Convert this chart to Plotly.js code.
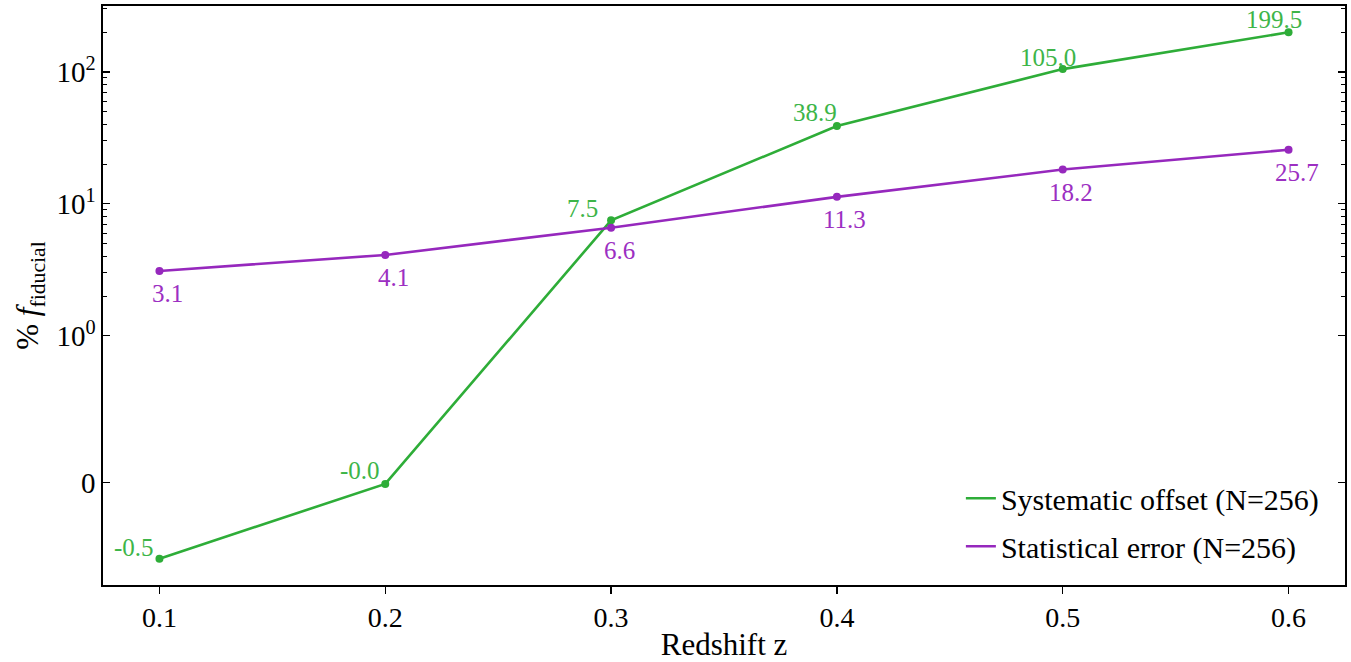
<!DOCTYPE html>
<html>
<head>
<meta charset="utf-8">
<script src="https://cdn.plot.ly/plotly-3.0.1.min.js"></script>
<style>html,body{margin:0;padding:0;background:#fff;}#chart{width:1351px;height:662px;}</style>
</head>
<body>
<div id="chart"></div>
<script>
// ---- data ----
const redshift = [0.1, 0.2, 0.3, 0.4, 0.5, 0.6];
const systematicOffset = [-0.52, -0.01, 7.5, 38.9, 105.0, 199.5];
const statisticalError = [3.1, 4.1, 6.6, 11.3, 18.2, 25.7];
const seriesNames = ['Systematic offset (N=256)', 'Statistical error (N=256)'];
const yMajorTicks = [0, 1, 10, 100];
const yMajorTickText = ['0', '10<sup>0</sup>', '10<sup>1</sup>', '10<sup>2</sup>'];
const xTicks = [0.1, 0.2, 0.3, 0.4, 0.5, 0.6];
const xTitle = 'Redshift z';
const yTitle = '% <i>f</i><sub>fiducial</sub>';

// ---- styles ----
const green = '#2ead38';
const greenText = '#3db548';
const purple = '#9628bd';
const purpleText = '#9c2fc2';
const FONT = 'Liberation Serif, Times New Roman, serif';
// label offsets (pixels) relative to the points
const greenShiftX = [-25, -25, -29, -22, -15, -15];
const greenShiftY = [11, 13, 12, 14, 12, 13];
const purpleShiftX = [8, 8, 8, 8, 8, 8];
const purpleShiftY = [-23, -23, -23, -23, -23, -23];

// ---- symlog transform (linthresh=1, linscale=1, base 10) ----
const LINSCALE_ADJ = 1 / (1 - 1 / 10);
function symlog(v) {
  const a = Math.abs(v);
  if (a <= 1) return v * LINSCALE_ADJ;
  return Math.sign(v) * (LINSCALE_ADJ + Math.log10(a));
}

const gY = systematicOffset.map(symlog);
const pY = statisticalError.map(symlog);

// range with 5% margins
const allT = gY.concat(pY);
const tMin = Math.min(...allT), tMax = Math.max(...allT);
const tPad = 0.05 * (tMax - tMin);
const xMin = Math.min(...redshift), xMax = Math.max(...redshift);
const xPad = 0.05 * (xMax - xMin);

// minor ticks
const minorVals = [];
[1, 10, 100].forEach(d => { for (let k = 2; k <= 9; k++) minorVals.push(symlog(k * d)); });

const traces = [
  {x: redshift, y: gY, mode: 'lines', name: seriesNames[0], legendgroup: 'a',
   line: {color: green, width: 2.6}, hoverinfo: 'skip'},
  {x: redshift, y: gY, mode: 'markers', name: seriesNames[0], legendgroup: 'a', showlegend: false,
   marker: {color: green, size: 8}, hoverinfo: 'skip'},
  {x: redshift, y: pY, mode: 'lines', name: seriesNames[1], legendgroup: 'b',
   line: {color: purple, width: 2.6}, hoverinfo: 'skip'},
  {x: redshift, y: pY, mode: 'markers', name: seriesNames[1], legendgroup: 'b', showlegend: false,
   marker: {color: purple, size: 8}, hoverinfo: 'skip'}
];

const annotations = [];
redshift.forEach((x, i) => {
  annotations.push({x: x, y: gY[i], xref: 'x', yref: 'y', text: systematicOffset[i].toFixed(1),
    showarrow: false, xanchor: 'center', yanchor: 'middle', xshift: greenShiftX[i], yshift: greenShiftY[i],
    font: {family: FONT, size: 25, color: greenText}});
  annotations.push({x: x, y: pY[i], xref: 'x', yref: 'y', text: statisticalError[i].toFixed(1),
    showarrow: false, xanchor: 'center', yanchor: 'middle', xshift: purpleShiftX[i], yshift: purpleShiftY[i],
    font: {family: FONT, size: 25, color: purpleText}});
});

const layout = {
  width: 1351, height: 662,
  margin: {l: 103, r: 6, t: 6, b: 77},
  paper_bgcolor: '#fff', plot_bgcolor: '#fff',
  font: {family: FONT, size: 28, color: '#000'},
  showlegend: true,
  legend: {x: 0.983, xanchor: 'right', y: 0.022, yanchor: 'bottom', bgcolor: 'rgba(0,0,0,0)',
    font: {family: FONT, size: 30, color: '#000'}, tracegroupgap: 6, traceorder: 'grouped'},
  xaxis: {
    range: [xMin - xPad, xMax + xPad], tickmode: 'array', tickvals: xTicks,
    ticktext: xTicks.map(v => v.toFixed(1)),
    ticks: 'outside', ticklen: 7, tickwidth: 1.2, tickcolor: '#000',
    showline: true, linecolor: '#000', linewidth: 1.6, mirror: true,
    showgrid: false, zeroline: false,
    tickfont: {family: FONT, size: 28},
    title: {text: xTitle, font: {family: FONT, size: 31}, standoff: 6}
  },
  yaxis: {
    range: [tMin - tPad, tMax + tPad], tickmode: 'array',
    tickvals: yMajorTicks.map(symlog), ticktext: yMajorTickText,
    ticks: 'inside', ticklen: 7, tickwidth: 1.2, tickcolor: '#000',
    minor: {tickmode: 'array', tickvals: minorVals, ticks: 'inside', ticklen: 4, tickwidth: 1, tickcolor: '#000', showgrid: false},
    showline: true, linecolor: '#000', linewidth: 1.6, mirror: 'ticks',
    showgrid: false, zeroline: false,
    tickfont: {family: FONT, size: 29},
    title: {text: yTitle, font: {family: FONT, size: 31}, standoff: 8}
  },
  annotations: annotations
};

Plotly.newPlot('chart', traces, layout, {staticPlot: true, displayModeBar: false});
</script>
</body>
</html>
